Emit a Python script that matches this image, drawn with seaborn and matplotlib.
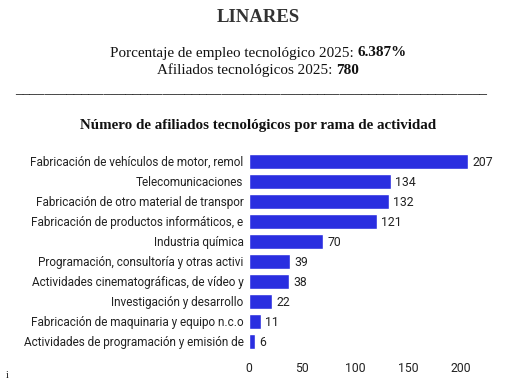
import matplotlib
matplotlib.use("Agg")
import matplotlib.pyplot as plt
import pandas as pd
import seaborn as sns

sns.set_style("white")
plt.rcParams["font.family"] = ["Roboto", "DejaVu Sans"]

BAR = "#2a2ee0"
SERIF = ["Liberation Serif", "DejaVu Serif"]

ramas = [
    "Fabricación de vehículos de motor, remol",
    "Telecomunicaciones",
    "Fabricación de otro material de transpor",
    "Fabricación de productos informáticos, e",
    "Industria química",
    "Programación, consultoría y otras activi",
    "Actividades cinematográficas, de vídeo y",
    "Investigación y desarrollo",
    "Fabricación de maquinaria y equipo n.c.o",
    "Actividades de programación y emisión de",
]
afiliados = [207, 134, 132, 121, 70, 39, 38, 22, 11, 6]
ticks = [0, 50, 100, 150, 200]

df = pd.DataFrame({"rama": ramas, "afiliados": afiliados})

fig = plt.figure(figsize=(5.16, 3.8), dpi=100)
ax = fig.add_axes([249 / 516, 1 - 351 / 380, (500 - 249) / 516, 200 / 380])

sns.barplot(data=df, x="afiliados", y="rama", orient="h", color=BAR,
            saturation=1, width=0.75, ax=ax)

for i, v in enumerate(afiliados):
    ax.text(v + 4, i, str(v), va="center_baseline", ha="left", fontsize=8.8,
            color="#222222")

ax.set_xlim(0, 237)
ax.set_xticks(ticks)
ax.set_xlabel("")
ax.set_ylabel("")
ax.tick_params(axis="both", length=0, labelsize=8.8, colors="#222222")
ax.tick_params(axis="y", labelsize=8.5, pad=4)
ax.tick_params(axis="x", pad=8)
sns.despine(ax=ax, left=True, bottom=True)


def mixed_line(y, normal, bold, size=10.9):
    # normal + bold run, centred as one line
    renderer = fig.canvas.get_renderer()
    t1 = fig.text(0, y, normal, ha="left", va="center", family=SERIF,
                  fontsize=size, color="#111111")
    t2 = fig.text(0, y, bold, ha="left", va="center", family=SERIF,
                  fontsize=size, fontweight="bold", color="#111111")
    w1 = t1.get_window_extent(renderer).width
    w2 = t2.get_window_extent(renderer).width
    W = fig.bbox.width
    x0 = (W - w1 - w2) / 2
    t1.set_x(x0 / W)
    t2.set_x((x0 + w1) / W)


fig.text(0.5, 1 - 17 / 380, "LINARES", ha="center", va="center",
         family=SERIF, fontweight="bold", fontsize=13.5, color="#333333")
mixed_line(1 - 53 / 380, "Porcentaje de empleo tecnológico 2025: ", "6.387%")
mixed_line(1 - 70 / 380, "Afiliados tecnológicos 2025: ", "780")
fig.text(251 / 516, 1 - 90 / 380, "_" * 64, ha="center", va="center",
         family=SERIF, fontsize=10.5, color="#111111")
fig.text(0.5, 1 - 126 / 380, "Número de afiliados tecnológicos por rama de actividad",
         ha="center", va="center", family=SERIF, fontweight="bold", fontsize=10.8,
         color="#111111")
fig.text(7 / 516, 1 - 376 / 380, "i", ha="center", va="center",
         family=SERIF, fontsize=7, color="#111111")

fig.savefig("out.png", dpi=100)
